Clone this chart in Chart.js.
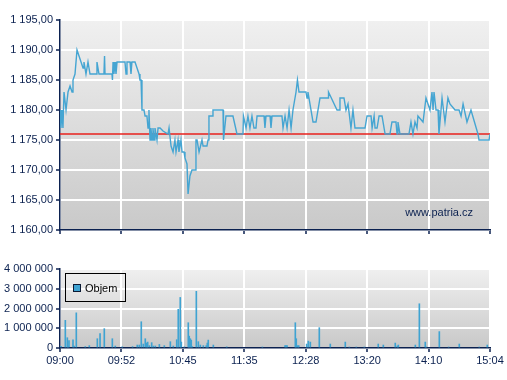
<!DOCTYPE html>
<html><head><meta charset="utf-8">
<script src="https://cdn.jsdelivr.net/npm/chart.js@4/dist/chart.umd.min.js"></script>
<style>
body{margin:0;background:#fff;width:507px;height:380px;overflow:hidden;position:relative}
#c1{position:absolute;left:0;top:0}
#c2{position:absolute;left:0;top:255px}
</style>
</head><body>
<canvas id="c1" width="507" height="245"></canvas>
<canvas id="c2" width="507" height="125"></canvas>
<script>
// ---- data ----
const tickLabels = ["09:00","09:52","10:45","11:35","12:28","13:20","14:10","15:04"];
const tickMinutes = [0,52,104,156,208,260,312,364];
const priceTicks = [1160,1165,1170,1175,1180,1185,1190,1195];
const volumeTicks = [0,1000000,2000000,3000000,4000000];
const refPrice = 1176;
const watermark = "www.patria.cz";
const volumeLabel = "Objem";

const priceTimes = [0,0.8,1.7,2.5,3.4,5.1,6.8,8.5,10.2,11.0,12.7,14.4,16.1,17.8,19.5,20.3,22.0,23.7,25.4,30.5,31.3,33.0,37.2,37.7,38.1,44.0,44.4,44.9,45.7,46.6,47.4,48.3,55.0,55.9,56.7,59.3,60.1,60.9,63.5,65.2,66.9,67.7,68.6,69.4,71.1,72.0,73.6,74.5,75.3,76.2,77.0,77.9,78.7,79.6,80.4,82.1,83.0,84.7,87.2,91.4,92.3,94.0,95.7,97.3,98.2,99.9,100.7,102.4,103.3,105.0,105.8,107.5,108.4,110.0,111.7,114.3,115.1,116.0,117.7,120.2,121.1,124.4,125.3,126.1,128.7,129.5,138.0,138.4,140.5,146.4,149.8,154.9,155.3,157.5,159.1,160.8,162.5,164.2,165.9,166.8,172.7,173.5,174.4,177.8,178.6,179.5,187.9,188.8,190.5,192.2,193.9,195.6,197.2,199.8,201.0,202.3,208.2,209.1,209.9,214.2,216.7,220.1,226.9,227.3,234.5,236.2,237.0,240.4,242.1,243.8,246.3,248.0,249.7,258.2,259.9,263.3,264.2,265.9,266.7,268.4,270.1,272.6,275.2,279.3,281.0,284.4,285.3,286.1,287.8,295.4,297.1,298.8,300.5,302.2,303.0,307.3,309.8,311.5,313.2,314.9,315.8,316.6,318.3,320.0,320.8,323.4,325.9,328.4,330.1,334.4,337.8,339.5,341.2,344.5,347.9,353.8,354.7,363.2,364.0];
const priceValues = [1180,1177,1180,1177,1183,1180,1183,1184,1183,1185,1186,1190,1189,1188,1187,1188,1186,1188,1186,1186,1188,1186,1186,1189,1186,1186,1185,1188,1186,1188,1186,1188,1188,1186,1188,1188,1186,1188,1188,1187,1186,1185,1185,1180,1180,1179,1179,1177,1180,1175,1177,1175,1177,1175,1177,1175,1177,1177,1176.5,1176,1177,1174,1173,1175,1173,1175,1173,1175,1173,1173,1172,1171,1166,1169,1170,1170,1175,1175,1173,1175,1174,1174,1175,1179,1179,1180,1180,1175,1179,1179,1176,1176,1179,1177,1179,1177,1179,1177,1177,1179,1179,1177,1179,1179,1177,1179,1179,1177,1179,1177,1180,1177,1180,1183,1185,1183,1183,1182,1183,1178,1178,1182,1182,1183,1180,1180,1182,1182,1180,1181,1177,1180,1177,1177,1179,1179,1177,1179,1177,1177,1179,1179,1176,1176,1178,1178,1176,1178,1176,1176,1178,1176,1178,1177,1179,1178,1182,1181,1180,1183,1180,1183,1180,1180,1176,1182,1178,1182,1181,1180,1180,1179,1181,1178,1180,1176,1175,1175,1176];

const volumeTimes = [0.8,4.5,6.2,6.8,7.6,11.0,11.9,13.8,21.4,24.8,31.6,33.9,37.5,44.3,46.8,52.7,61.4,65.4,67.1,68.8,70.5,72.2,73.4,74.2,75.6,77.6,79.0,80.7,84.1,88.3,93.4,95.9,98.8,100.1,101.8,102.7,105.2,108.6,109.4,110.3,111.1,112.0,115.4,117.1,118.8,121.3,123.8,124.7,125.5,129.8,141.1,171.3,190.5,191.3,192.2,199.2,200.0,201.2,202.1,208.8,210.2,211.9,219.5,228.8,241.5,244.9,250.8,257.6,269.4,273.7,283.8,285.5,286.4,300.8,304.2,309.2,310.1,321.1,329.0,338.0,354.9,361.7];
const volumeValues = [80000,1400000,520000,100000,370000,420000,100000,1780000,70000,120000,470000,730000,980000,470000,100000,60000,70000,150000,150000,1330000,200000,470000,250000,300000,120000,270000,100000,100000,180000,120000,320000,100000,420000,1960000,2560000,300000,60000,1280000,600000,470000,400000,70000,2870000,320000,150000,120000,120000,250000,400000,150000,60000,50000,120000,120000,120000,1280000,470000,120000,120000,200000,350000,300000,1030000,200000,300000,50000,50000,50000,200000,150000,250000,100000,150000,150000,2240000,300000,50000,830000,50000,200000,50000,150000];

// ---- styles ----
const NAVY = '#0b2150';
const FONT = {family: "'Liberation Sans', Arial, sans-serif", size: 11};
Chart.defaults.font = FONT;
Chart.defaults.color = NAVY;

function fmtNum(v, dec) {
  let s = Math.round(v).toString().replace(/\B(?=(\d{3})+(?!\d))/g, ' ');
  return dec ? s + ',00' : s;
}

const bgPlugin = {
  id: 'bg',
  beforeDraw(chart, args, opts) {
    const {ctx, chartArea: a} = chart;
    const g = ctx.createLinearGradient(0, a.top, 0, a.bottom);
    g.addColorStop(0, opts.top);
    g.addColorStop(1, opts.bottom);
    ctx.save();
    ctx.fillStyle = g;
    ctx.fillRect(a.left, a.top, a.right - a.left, a.bottom - a.top);
    ctx.restore();
  }
};

const wmPlugin = {
  id: 'wm',
  afterDraw(chart) {
    const {ctx, chartArea: a} = chart;
    ctx.save();
    ctx.font = "11px 'Liberation Sans', Arial, sans-serif";
    ctx.fillStyle = NAVY;
    ctx.textAlign = 'right';
    ctx.textBaseline = 'middle';
    ctx.fillText(watermark, a.right - 17, a.bottom - 17);
    ctx.restore();
  }
};

const legendPlugin = {
  id: 'legbox',
  afterDraw(chart) {
    const {ctx, chartArea: a} = chart;
    const ds = chart.data.datasets[0];
    const x = a.left + 5, y = a.top + 4;
    ctx.save();
    ctx.strokeStyle = '#000';
    ctx.lineWidth = 1;
    ctx.strokeRect(x + 0.5, y + 0.5, 60, 28);
    ctx.fillStyle = ds.backgroundColor;
    ctx.fillRect(x + 8, y + 11, 8, 8);
    ctx.strokeStyle = '#0b1a33';
    ctx.strokeRect(x + 8.5, y + 11.5, 7, 7);
    ctx.font = "11px 'Liberation Sans', Arial, sans-serif";
    ctx.fillStyle = '#000';
    ctx.textBaseline = 'middle';
    ctx.fillText(ds.label, x + 20, y + 16);
    ctx.restore();
  }
};

function xScale(showLabels, h) {
  return {
    type: 'linear', min: 0, max: 364, offset: false,
    afterBuildTicks: s => { s.ticks = tickMinutes.map(v => ({value: v})); },
    afterFit: s => { s.height = h; },
    grid: {color: '#ffffff', lineWidth: 2, tickColor: NAVY, tickLength: 4, tickWidth: 1.5, offset: false},
    border: {color: NAVY, width: 1.5},
    ticks: {display: showLabels, autoSkip: false, maxRotation: 0, padding: 2, color: NAVY,
            callback: (v, i) => tickLabels[i]}
  };
}

new Chart(document.getElementById('c1'), {
  type: 'line',
  data: {
    datasets: [
      {label: 'Cena', data: priceTimes.map((t, i) => ({x: t, y: priceValues[i]})),
       borderColor: '#45a5d2', borderWidth: 1.4, pointRadius: 0, tension: 0, fill: false},
      {label: 'Ref', data: [{x: 0, y: refPrice}, {x: 364, y: refPrice}],
       borderColor: '#e8201c', borderWidth: 1.5, pointRadius: 0, fill: false}
    ]
  },
  options: {
    responsive: false, animation: false, devicePixelRatio: 1,
    layout: {padding: {top: 20, right: 17, left: 0, bottom: 0}},
    plugins: {legend: {display: false}, tooltip: {enabled: false},
              bg: {top: '#f0f0f0', bottom: '#c9c9c9'}},
    scales: {
      x: xScale(false, 15),
      y: {
        min: 1160, max: 1195,
        afterBuildTicks: s => { s.ticks = priceTicks.map(v => ({value: v})); },
        afterFit: s => { s.width = 60; },
        grid: {color: '#ffffff', lineWidth: 2, tickColor: NAVY, tickLength: 4, tickWidth: 1.5},
        border: {color: NAVY, width: 1.5},
        ticks: {padding: 3, color: NAVY, callback: v => fmtNum(v, true)}
      }
    }
  },
  plugins: [bgPlugin, wmPlugin]
});

new Chart(document.getElementById('c2'), {
  type: 'bar',
  data: {
    datasets: [
      {label: volumeLabel, data: volumeTimes.map((t, i) => ({x: t, y: volumeValues[i]})),
       backgroundColor: '#3fa3d2', borderWidth: 0, barThickness: 1, grouped: false}
    ]
  },
  options: {
    responsive: false, animation: false, devicePixelRatio: 1,
    layout: {padding: {top: 14, right: 17, left: 0, bottom: 0}},
    plugins: {legend: {display: false}, tooltip: {enabled: false},
              bg: {top: '#f0f0f0', bottom: '#c8c8c8'}},
    scales: {
      x: xScale(true, 32),
      y: {
        min: 0, max: 4000000,
        afterBuildTicks: s => { s.ticks = volumeTicks.map(v => ({value: v})); },
        afterFit: s => { s.width = 60; },
        grid: {color: '#ffffff', lineWidth: 2, tickColor: NAVY, tickLength: 4, tickWidth: 1.5},
        border: {color: NAVY, width: 1.5},
        ticks: {padding: 3, color: NAVY, callback: v => fmtNum(v, false)}
      }
    }
  },
  plugins: [bgPlugin, legendPlugin]
});
</script>
</body></html>
